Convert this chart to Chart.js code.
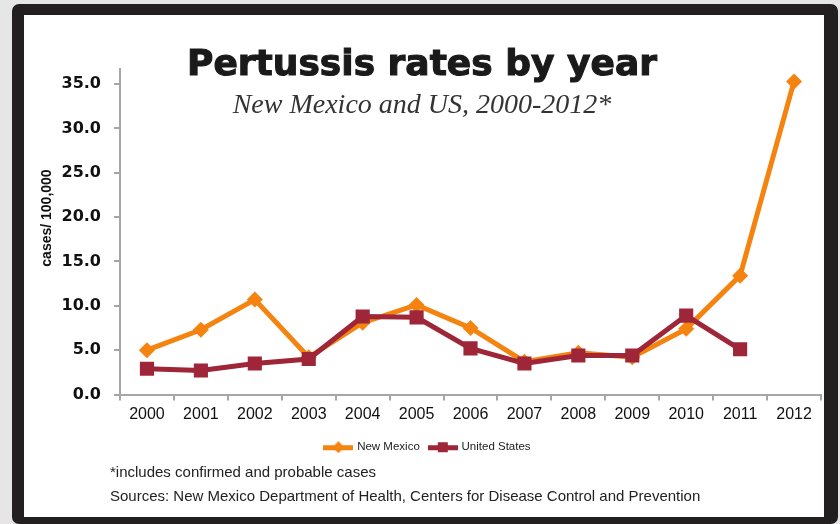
<!DOCTYPE html>
<html>
<head>
<meta charset="utf-8">
<script src="https://cdn.jsdelivr.net/npm/chart.js@4.4.1/dist/chart.umd.min.js"></script>
<style>
  html, body { margin: 0; padding: 0; background: #fff; }
  #wrap { position: relative; width: 840px; height: 524px; overflow: hidden; background: #e6e6e6; }
  #frame {
    position: absolute; left: 12px; top: 4px; width: 800px; height: 502px;
    border-style: solid; border-color: #231f20;
    border-width: 11px 14px 7px 12px; border-radius: 7px;
    background: #fff;
  }
  #chart { position: absolute; left: 0; top: 0; }
  .txt { position: absolute; white-space: nowrap; }
  #title {
    left: 0; width: 844px; top: 45px; text-align: center;
    font: bold 36px "DejaVu Sans", sans-serif; line-height: 36px; color: #1a1a1a;
    -webkit-text-stroke: 1.1px #1a1a1a;
  }
  #subtitle {
    left: 0; width: 844px; top: 90px; text-align: center;
    font: italic 28px "Liberation Serif", serif; line-height: 28px; color: #333;
  }
  #ytitle {
    left: -4px; top: 208px; width: 100px; height: 20px; text-align: center;
    font: bold 14px "Liberation Sans", Arial, sans-serif; line-height: 20px; color: #111;
    transform: rotate(-90deg);
  }
  .note { left: 110px; font: 15px "Liberation Sans", Arial, sans-serif; color: #222; }
</style>
</head>
<body>
<div id="wrap">
  <div id="frame"></div>
  <canvas id="chart" width="840" height="524"></canvas>
  <div class="txt" id="title">Pertussis rates by year</div>
  <div class="txt" id="subtitle">New Mexico and US, 2000-2012*</div>
  <div class="txt" id="ytitle">cases/ 100,000</div>
  <div class="txt note" style="top:463px">*includes confirmed and probable cases</div>
  <div class="txt note" style="top:487px">Sources: New Mexico Department of Health, Centers for Disease Control and Prevention</div>
</div>
<script>
var years = ['2000', '2001', '2002', '2003', '2004', '2005', '2006', '2007', '2008', '2009', '2010', '2011', '2012'];
var newMexico = [5.0, 7.3, 10.7, 4.2, 8.1, 10.1, 7.5, 3.7, 4.7, 4.2, 7.4, 13.4, 35.3];
var unitedStates = [2.9, 2.7, 3.5, 4.0, 8.8, 8.7, 5.2, 3.5, 4.4, 4.4, 8.9, 5.1, null];
var yTicks = [0, 5, 10, 15, 20, 25, 30, 35];

var orange = '#f4830f';
var maroon = '#9e2638';
var axisGray = '#a6a6a6';

// little line+marker icons for the legend
function legendIcon(color, shape) {
    var c = document.createElement('canvas');
    c.width = 30; c.height = 12;
    var g = c.getContext('2d');
    g.fillStyle = color;
    g.fillRect(0, 4, 30, 5);
    g.beginPath();
    if (shape == 'diamond') {
        g.moveTo(15, 0); g.lineTo(21, 6); g.lineTo(15, 12); g.lineTo(9, 6);
    } else {
        g.rect(10, 1, 10, 10);
    }
    g.fill();
    return c;
}
var icons = [legendIcon(orange, 'diamond'), legendIcon(maroon, 'square')];

var ctx = document.getElementById('chart').getContext('2d');
var myChart = new Chart(ctx, {
    type: 'line',
    data: {
        labels: years,
        datasets: [{
            label: 'New Mexico',
            data: newMexico,
            borderColor: orange,
            backgroundColor: orange,
            borderWidth: 5,
            pointStyle: 'rectRot',
            pointRadius: 8,
            pointBorderWidth: 0,
            order: 1
        }, {
            label: 'United States',
            data: unitedStates,
            borderColor: maroon,
            backgroundColor: maroon,
            borderWidth: 5,
            pointStyle: 'rect',
            pointRadius: 10,
            pointBorderWidth: 0,
            order: 0
        }]
    },
    options: {
        responsive: false,
        animation: false,
        layout: {
            padding: { left: 35, top: 69, right: 19, bottom: 61 }
        },
        plugins: {
            tooltip: { enabled: false },
            legend: {
                position: 'bottom',
                labels: {
                    usePointStyle: true,
                    pointStyleWidth: 26,
                    padding: 10,
                    color: '#222',
                    font: { family: 'Liberation Sans', size: 11.5 },
                    sort: function (a, b) { return a.datasetIndex - b.datasetIndex; },
                    generateLabels: function (chart) {
                        return Chart.defaults.plugins.legend.labels.generateLabels(chart).map(function (l) {
                            l.pointStyle = icons[l.datasetIndex];
                            return l;
                        });
                    }
                }
            }
        },
        scales: {
            x: {
                offset: true,
                grid: { offset: true, drawOnChartArea: false, color: axisGray, lineWidth: 2, tickLength: 6 },
                border: { color: axisGray, width: 2 },
                ticks: { color: '#111', padding: 4, font: { family: 'Liberation Sans', size: 16 } },
                afterFit: function (scale) { scale.height = 37; }
            },
            y: {
                min: 0,
                max: 36.7,
                grid: { drawOnChartArea: false, color: axisGray, lineWidth: 2, tickLength: 6 },
                border: { color: axisGray, width: 2 },
                ticks: {
                    color: '#111',
                    padding: 13,
                    font: { family: 'DejaVu Sans', size: 16, weight: 'bold' },
                    callback: function (v) { return Number(v).toFixed(1); }
                },
                afterBuildTicks: function (scale) {
                    scale.ticks = yTicks.map(function (v) { return { value: v }; });
                },
                afterFit: function (scale) { scale.width = 85; }
            }
        }
    }
});
</script>
</body>
</html>
